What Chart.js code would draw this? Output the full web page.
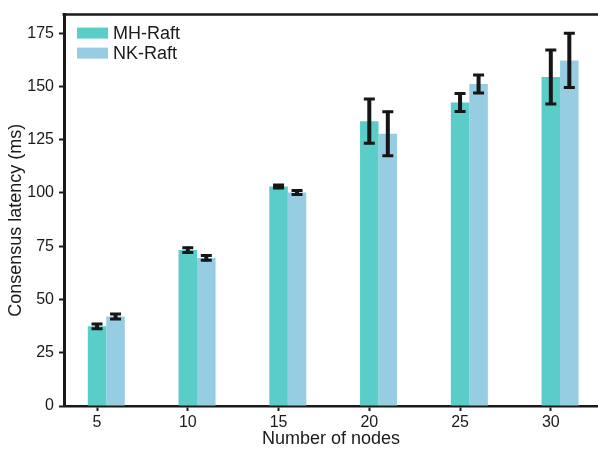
<!DOCTYPE html>
<html><head><meta charset="utf-8">
<script src="https://cdn.jsdelivr.net/npm/chart.js@4"></script>
<style>html,body{margin:0;padding:0;background:#fff}#wrap{width:598px;height:452px;position:relative}</style>
</head><body><div id="wrap"><canvas id="c"></canvas></div>
<script>
// ---- data ----
const nodes = [5, 10, 15, 20, 25, 30];
const mhRaft = [37.4, 73.2, 103.0, 133.7, 142.4, 154.4];
const mhErr  = [1.6, 1.6, 1.2, 10.8, 4.7, 13.1];
const nkRaft = [42.0, 69.5, 100.2, 127.8, 151.1, 162.2];
const nkErr  = [1.6, 1.6, 1.4, 10.8, 4.7, 13.2];
const xTicks = [5, 10, 15, 20, 25, 30];
const yTicks = [0, 25, 50, 75, 100, 125, 150, 175];
const seriesNames = ['MH-Raft', 'NK-Raft'];
const xTitle = 'Number of nodes';
const yTitle = 'Consensus latency (ms)';

const FONT = "'Liberation Sans', Arial, Helvetica, sans-serif";
const INK = '#1a1a1a';
Chart.defaults.font.family = FONT;
Chart.defaults.color = INK;

const toPts = (vals) => vals.map((v, i) => ({ x: nodes[i], y: v }));

const errorBars = {
  id: 'errorBars',
  afterDatasetsDraw(chart) {
    const ctx = chart.ctx, ys = chart.scales.y;
    chart.data.datasets.forEach((ds, di) => {
      if (!ds.errors) return;
      const meta = chart.getDatasetMeta(di);
      meta.data.forEach((bar, i) => {
        const v = ds.data[i].y, e = ds.errors[i];
        const top = ys.getPixelForValue(v + e), bot = ys.getPixelForValue(v - e);
        ctx.save();
        ctx.strokeStyle = '#161616';
        ctx.lineWidth = 4;
        ctx.beginPath(); ctx.moveTo(bar.x, top); ctx.lineTo(bar.x, bot); ctx.stroke();
        ctx.lineWidth = 3;
        ctx.beginPath();
        ctx.moveTo(bar.x - 5.5, top + 1); ctx.lineTo(bar.x + 5.5, top + 1);
        ctx.moveTo(bar.x - 5.5, bot - 1); ctx.lineTo(bar.x + 5.5, bot - 1);
        ctx.stroke();
        ctx.restore();
      });
    });
  }
};

const frameAndText = {
  id: 'frameAndText',
  afterDraw(chart) {
    const ctx = chart.ctx, a = chart.chartArea;
    ctx.save();
    // top frame line
    ctx.strokeStyle = INK; ctx.lineWidth = 2.5;
    ctx.beginPath(); ctx.moveTo(a.left - 1.5, a.top); ctx.lineTo(a.right, a.top); ctx.stroke();
    // y title
    ctx.fillStyle = INK;
    ctx.font = '18px ' + FONT;
    ctx.textAlign = 'center'; ctx.textBaseline = 'middle';
    ctx.translate(16, (a.top + a.bottom) / 2 + 10);
    ctx.rotate(-Math.PI / 2);
    ctx.fillText(yTitle, 0, 0);
    ctx.restore();
    // legend
    ctx.save();
    ctx.font = '18px ' + FONT;
    ctx.textAlign = 'left'; ctx.textBaseline = 'middle';
    let row = 0;
    chart.data.datasets.forEach((ds) => {
      if (!ds.label) return;
      const bx = a.left + 13, by = a.top + 13 + row * 20;
      ctx.fillStyle = ds.backgroundColor;
      ctx.fillRect(bx, by, 31, 11);
      ctx.fillStyle = INK;
      ctx.fillText(ds.label, bx + 36, by + 6);
      row++;
    });
    ctx.restore();
  }
};

new Chart(document.getElementById('c'), {
  type: 'bar',
  data: {
    datasets: [
      { label: '', data: [], backgroundColor: 'rgba(0,0,0,0)' },
      { label: seriesNames[0], data: toPts(mhRaft), errors: mhErr, backgroundColor: '#5bcdc8' },
      { label: seriesNames[1], data: toPts(nkRaft), errors: nkErr, backgroundColor: '#96cde2' }
    ]
  },
  options: {
    responsive: true,
    maintainAspectRatio: false,
    animation: false,
    categoryPercentage: 0.612,
    barPercentage: 1.0,
    layout: { padding: { top: 5, right: 0, bottom: 0, left: 0 } },
    plugins: { legend: { display: false }, tooltip: { enabled: false } },
    scales: {
      x: {
        type: 'linear',
        offset: false,
        min: 3.18, max: 32.6,
        afterBuildTicks: (s) => { s.ticks = xTicks.map(v => ({ value: v })); },
        afterFit: (s) => { s.height = 46; },
        ticks: { font: { size: 16 }, color: INK, padding: 2, maxRotation: 0, autoSkip: false },
        grid: { display: true, drawOnChartArea: false, drawTicks: true, tickLength: 5, tickWidth: 2, tickColor: INK, offset: false },
        border: { display: true, color: INK, width: 2.5 },
        title: { display: true, text: xTitle, font: { size: 18 }, color: INK, padding: { top: 0, bottom: 2 } }
      },
      y: {
        min: 0, max: 183.7,
        afterBuildTicks: (s) => { s.ticks = yTicks.map(v => ({ value: v })); },
        afterFit: (s) => { s.width = 64; },
        ticks: { font: { size: 16 }, color: INK, padding: 5 },
        grid: { display: true, drawOnChartArea: false, drawTicks: true, tickLength: 5, tickWidth: 2, tickColor: INK },
        border: { display: true, color: INK, width: 3 }
      }
    }
  },
  plugins: [errorBars, frameAndText]
});
</script>
</body></html>
